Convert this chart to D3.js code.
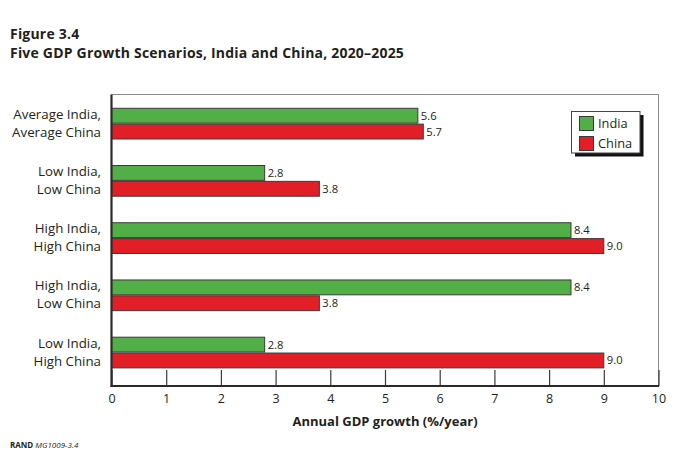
<!DOCTYPE html>
<html><head><meta charset="utf-8">
<script src="https://cdn.jsdelivr.net/npm/d3@7"></script>
<style>
html,body{margin:0;padding:0;background:#fff;}
svg{display:block;font-family:"Open Sans",sans-serif;}
</style></head>
<body>
<script>
const categories = [["Average India,","Average China"],["Low India,","Low China"],["High India,","High China"],["High India,","Low China"],["Low India,","High China"]];
const seriesNames = ["India","China"];
const indiaValues = [5.6, 2.8, 8.4, 8.4, 2.8];
const chinaValues = [5.7, 3.8, 9.0, 3.8, 9.0];
const xTicks = [0,1,2,3,4,5,6,7,8,9,10];
const titleLines = ["Figure 3.4","Five GDP Growth Scenarios, India and China, 2020–2025"];
const colors = ["#52ae47","#e21e26"];

(function(){
const W=687,H=466;
const svg=d3.select("body").append("svg").attr("width",W).attr("height",H);
const txt="#231f20";
const pL=111.5,pR=658.5,pT=94.5,pB=386;

// title (two lines)
titleLines.forEach((l,i)=>svg.append("text").attr("x",10).attr("y",i?58.2:39).attr("font-weight","bold")
  .attr("font-size",14).attr("letter-spacing",0.2).attr("fill",txt).text(l));

const x=d3.scaleLinear().domain([0,10]).range([pL,pR]);
const keys=categories.map((c,i)=>i);
const y=d3.scaleBand().domain(keys).range([pT,pB]).paddingInner(0.446).paddingOuter(0.27).align(0.43);
const ys=d3.scaleBand().domain([0,1]).range([0,y.bandwidth()]);

// frame top/right
svg.append("path").attr("d",`M${pL},${pT}H${pR}V${pB}`).attr("fill","none").attr("stroke","#8a8a8a").attr("stroke-width",1);

const data=[indiaValues,chinaValues];
const g=svg.append("g");
keys.forEach(i=>{
  data.forEach((vals,s)=>{
    const y0=y(i)+ys(s);
    g.append("rect").attr("x",x(0)).attr("y",y0+0.5).attr("width",x(vals[i])-x(0)).attr("height",ys.bandwidth()-1)
      .attr("fill",colors[s]).attr("stroke","#3a3a3a").attr("stroke-width",1);
    g.append("text").attr("x",x(vals[i])+3).attr("y",y0+ys.bandwidth()/2+4).attr("font-size",11.2).attr("fill",txt)
      .text(d3.format(".1f")(vals[i]));
  });
  const c=y(i)+y.bandwidth()/2;
  const lt=g.append("text").attr("x",101).attr("y",c-5).attr("text-anchor","end").attr("font-size",13.3).attr("fill",txt);
  categories[i].forEach((l,k)=>lt.append("tspan").attr("x",101).attr("dy",k?18:0).text(l));
});

// x axis with inner ticks
const ax=svg.append("g").attr("transform",`translate(0,${pB})`)
  .call(d3.axisBottom(x).tickValues(xTicks).tickSize(-16).tickFormat(d3.format("d")));
ax.select(".domain").remove();
ax.selectAll(".tick line").attr("stroke","#3a3a3a").attr("stroke-width",1.2);
ax.selectAll(".tick text").attr("font-size",12.5).attr("fill",txt).attr("font-family","Open Sans").attr("dy","0").attr("y",16.5);

// axes lines
svg.append("line").attr("x1",pL).attr("x2",pL).attr("y1",pT).attr("y2",pB+1).attr("stroke","#2a2a2a").attr("stroke-width",2.2);
svg.append("line").attr("x1",pL-1).attr("x2",pR+0.5).attr("y1",pB).attr("y2",pB).attr("stroke","#2a2a2a").attr("stroke-width",2.2);

svg.append("text").attr("x",(pL+pR)/2).attr("y",425.5).attr("text-anchor","middle").attr("font-weight","bold").attr("font-size",13).attr("fill",txt).text("Annual GDP growth (%/year)");

// legend
const lg=svg.append("g");
lg.append("rect").attr("x",575).attr("y",115).attr("width",68.5).attr("height",41.5).attr("fill","#111");
lg.append("rect").attr("x",571.5).attr("y",111.5).attr("width",68.5).attr("height",41.5).attr("fill","#fff").attr("stroke","#444").attr("stroke-width",1);
seriesNames.forEach((n,s)=>{
  lg.append("rect").attr("x",579.5).attr("y",116.5+s*20).attr("width",14).attr("height",14).attr("fill",colors[s]).attr("stroke","#3a3a3a");
  lg.append("text").attr("x",598).attr("y",128+s*20).attr("font-size",12.8).attr("fill",txt).text(n);
});

// footer
const ft=svg.append("text").attr("x",10).attr("y",447.5).attr("font-size",8).attr("fill",txt);
ft.append("tspan").attr("font-weight","bold").text("RAND ");
ft.append("tspan").attr("font-style","italic").text("MG1009-3.4");
})();
</script>
</body></html>
